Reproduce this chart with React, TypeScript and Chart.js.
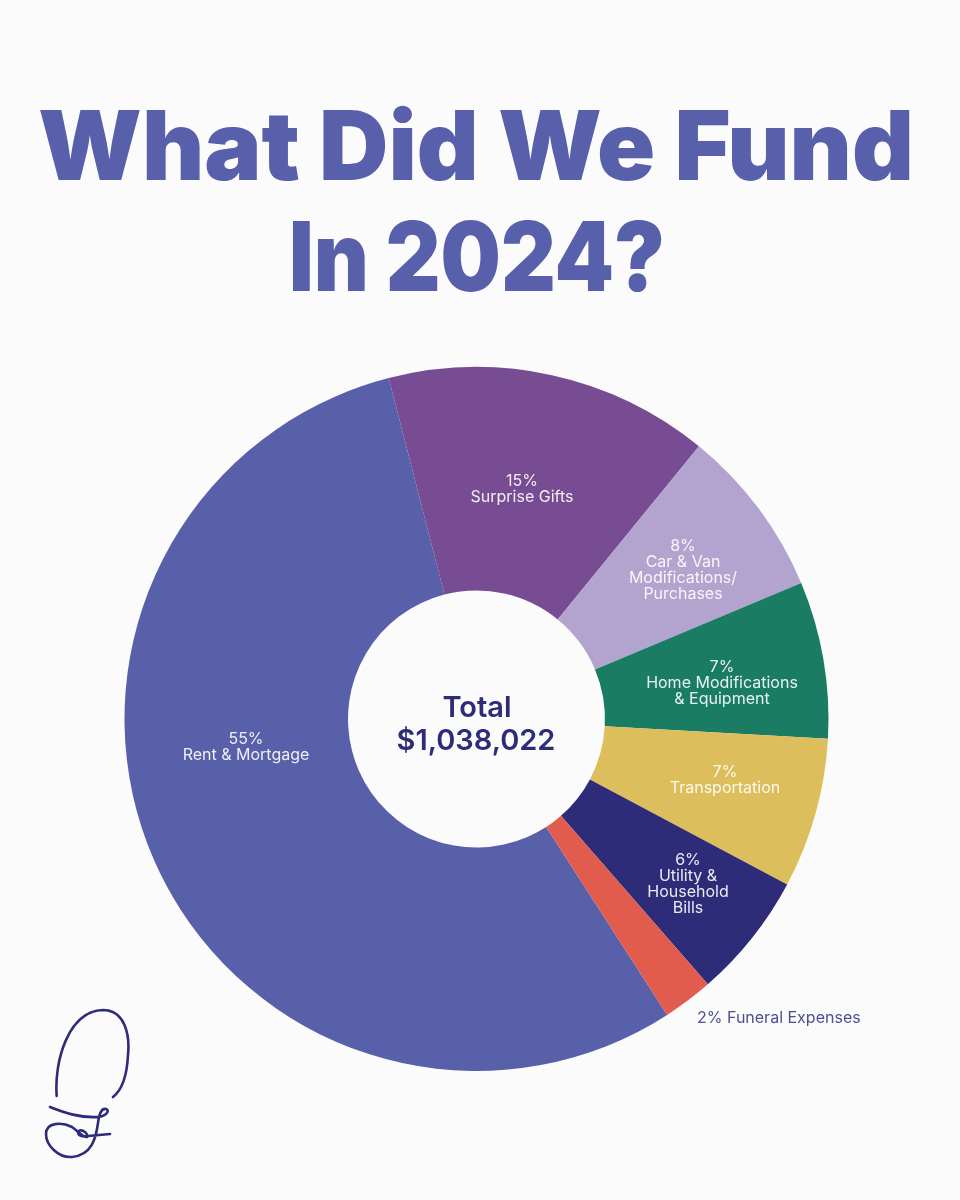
// What Did We Fund In 2024 - doughnut poster
import React, { useEffect, useRef } from 'react';
import Chart from 'chart.js/auto';

const categories = [
  'Rent & Mortgage',
  'Surprise Gifts',
  'Car & Van Modifications/Purchases',
  'Home Modifications & Equipment',
  'Transportation',
  'Utility & Household Bills',
  'Funeral Expenses',
];
// slice sizes, the printed labels are rounded
const shares = [55.1, 14.9, 7.8, 7.2, 6.9, 5.8, 2.3];
const sliceColors = ['#5860A9', '#784C93', '#B2A3CF', '#1A7C62', '#DDBE5C', '#2E2C78', '#E25C4E'];

const titleLines = ['What Did We Fund', 'In 2024?'];
const centerLines = ['Total', '$1,038,022'];
const sliceLabels = [
  ['55%', 'Rent & Mortgage'],
  ['15%', 'Surprise Gifts'],
  ['8%', 'Car & Van', 'Modifications/', 'Purchases'],
  ['7%', 'Home Modifications', '& Equipment'],
  ['7%', 'Transportation'],
  ['6%', 'Utility &', 'Household', 'Bills'],
];
const labelCenters = [[246, 739], [522, 481], [683, 546], [722, 667], [725, 772], [688, 860]];
const outsideLabel = '2% Funeral Expenses';

const INDIGO = '#2E2C78';

// title, hole text and slice labels, all on the chart's canvas
const posterText = {
  id: 'posterText',
  afterDraw(chart: Chart) {
    const ctx = chart.ctx;
    ctx.save();
    ctx.textAlign = 'center';

    ctx.textBaseline = 'alphabetic';
    ctx.fillStyle = '#5860AC';
    ctx.font = '900 96px Inter';
    ctx.fillText(titleLines[0], 476, 180);
    // the digits are narrower in the original typeface
    ctx.fillText(titleLines[1], 477, 291, 376);

    ctx.textBaseline = 'middle';
    ctx.fillStyle = INDIGO;
    ctx.font = '600 29px Inter';
    ctx.fillText(centerLines[0], 477, 708);
    ctx.fillText(centerLines[1], 476, 741);

    ctx.font = '400 16px Inter';
    ctx.fillStyle = 'rgba(255, 255, 255, 0.9)';
    sliceLabels.forEach((lines, i) => {
      lines.forEach((line, j) => {
        ctx.fillText(line, labelCenters[i][0], labelCenters[i][1] + j * 16);
      });
    });

    ctx.textAlign = 'left';
    ctx.fillStyle = '#4E4F90';
    ctx.fillText(outsideLabel, 697, 1018);
    ctx.restore();
  },
};

const App = () => {
  const chartRef = useRef<HTMLCanvasElement>(null);

  useEffect(() => {
    if (!chartRef.current) return;
    const chart = new Chart(chartRef.current, {
      type: 'doughnut',
      data: {
        labels: categories,
        datasets: [{
          data: shares,
          backgroundColor: sliceColors,
          borderWidth: 0,
        }],
      },
      options: {
        responsive: false,
        animation: false,
        rotation: 147.2,
        cutout: '36.5%',
        layout: { padding: { left: 124, right: 131, top: 367, bottom: 129 } },
        plugins: {
          legend: { display: false },
          tooltip: { enabled: false },
        },
      },
      plugins: [posterText],
    });
    return () => chart.destroy();
  }, []);

  return (
    <div style={{ position: 'absolute', top: 0, left: 0, width: 960, height: 1200, background: '#FBFBFB', overflow: 'hidden' }}>
      <canvas ref={chartRef} width={960} height={1200} style={{ display: 'block' }} />
      {/* hand drawn logo, bottom left */}
      <svg width={960} height={1200} style={{ position: 'absolute', top: 0, left: 0 }} fill="none" stroke={INDIGO} strokeWidth={2.6} strokeLinecap="round">
        <path d="M56.7 1096 C54 1062 68 1011 103 1010 C125 1010 130 1035 128 1055 C127 1075 122 1090 113 1097" />
        <path d="M50 1107 C65 1113 80 1118 98 1117 C107 1116 110 1110 106 1109 C101 1108 99 1115 98 1123 C96 1138 92 1155 72 1157 C58 1158 46 1145 46 1134 C46 1122 62 1122 72 1127 C78 1131 84 1138 87 1137 C88 1132 80 1128 78 1132 C78 1136 82 1137 88 1136 L110 1134" />
      </svg>
    </div>
  );
};

export default App;
